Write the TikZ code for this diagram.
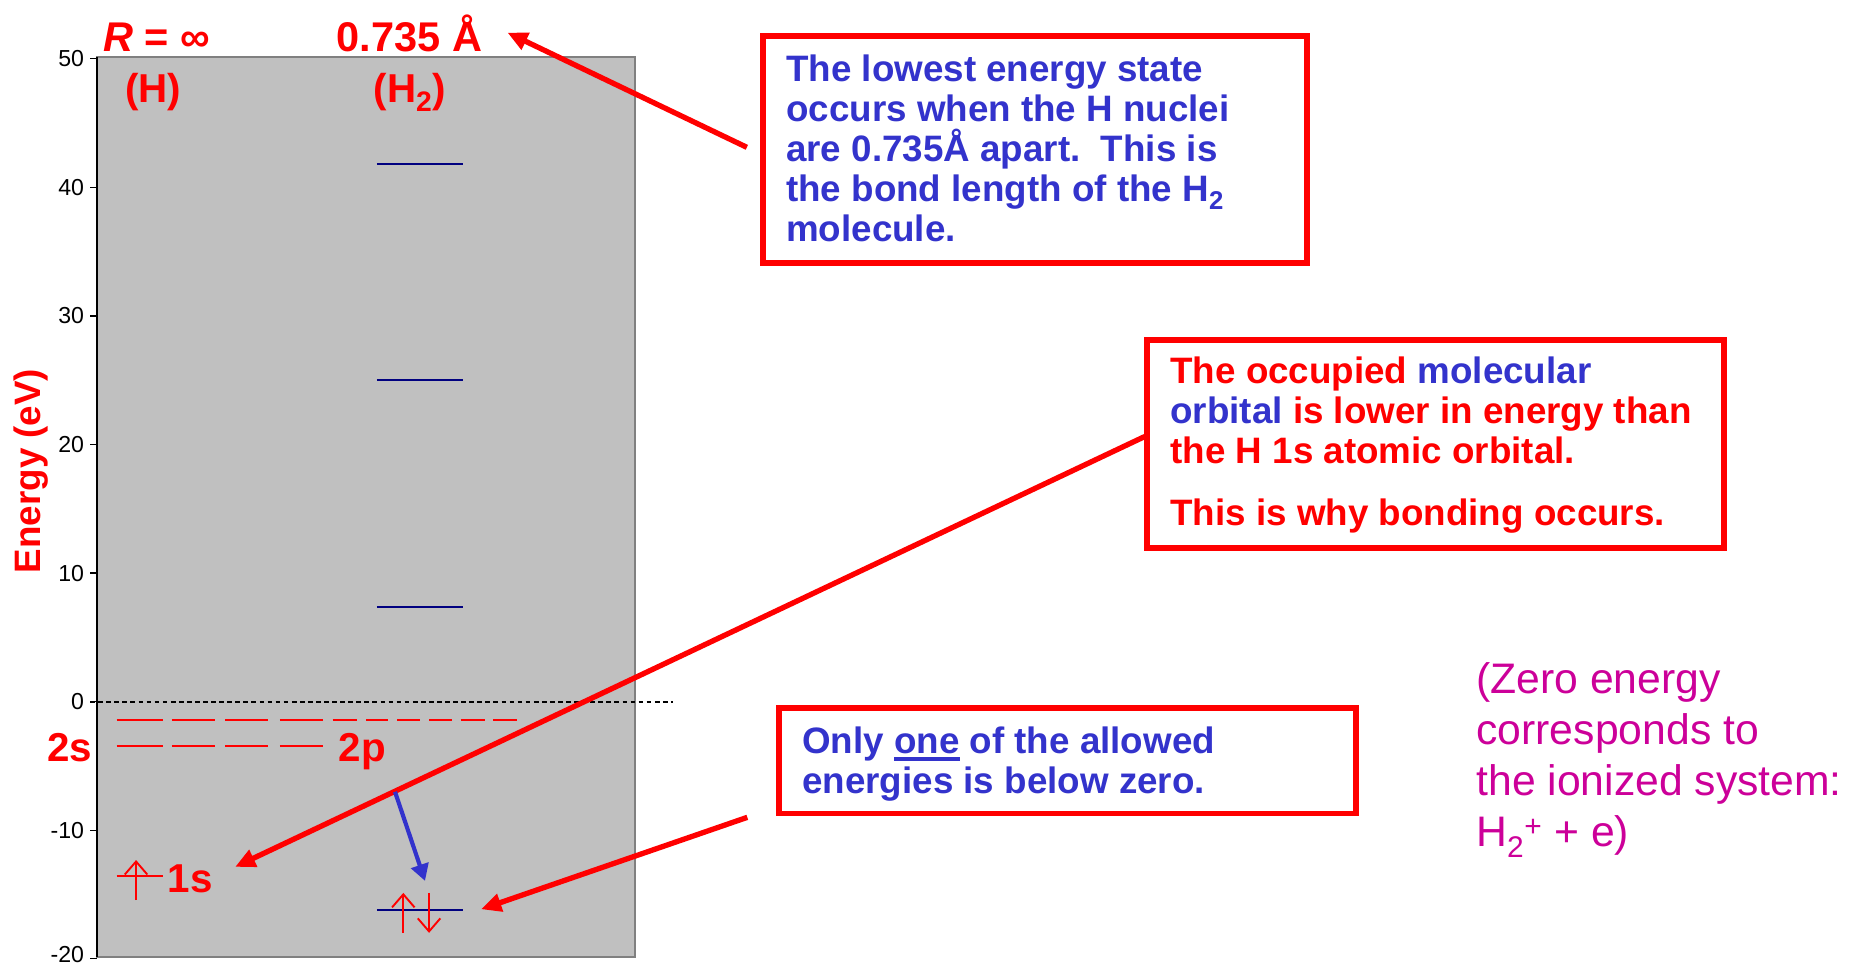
\documentclass[tikz,border=0pt]{standalone}
\usepackage{fontspec}
\setmainfont{Liberation Sans}
\usetikzlibrary{arrows.meta}
\definecolor{pred}{HTML}{FF0000}
\definecolor{tblue}{HTML}{3333CC}
\definecolor{navy}{HTML}{000080}
\definecolor{mag}{HTML}{CC0099}
\definecolor{plotgray}{HTML}{C0C0C0}
\definecolor{framegray}{HTML}{808080}
\newcommand\thickul[1]{\setbox0=\hbox{#1}\leavevmode\rlap{\rule[-6.4pt]{\wd0}{3.2pt}}\box0\relax}
\newcommand\fsz[2]{\fontsize{#1pt}{#2pt}\selectfont}
\newcommand\ptext[2]{\parbox[t]{#1pt}{\raggedright #2}}
\tikzset{
  lbl/.style={inner sep=0pt, outer sep=0pt, anchor=base west, font=\bfseries\fsz{34}{40}, text=pred},
  toplbl/.style={lbl, font=\bfseries\fsz{35}{40}},
  ticklbl/.style={inner sep=0pt, anchor=east, font=\fsz{19.5}{22}, text=black},
  btext/.style={inner sep=0pt, outer sep=0pt, anchor=base west, font=\bfseries\fsz{31}{33.7}},
  mtext/.style={inner sep=0pt, outer sep=0pt, anchor=base west, font=\fsz{36}{43}, text=mag},
  redbox/.style={draw=pred, line width=5pt, inner sep=0pt, outer sep=0pt, anchor=north west, fill=white},
  mo/.style={navy, line width=1.8pt},
  hdash/.style={pred, line width=1.6pt},
  spin/.style={pred, line width=1.6pt, -{Straight Barb[length=11pt,width=19pt]}},
  callout/.style={pred, line width=4.5pt, -{Triangle[length=17pt,width=15pt]}},
  bluearrow/.style={tblue, line width=3.5pt, -{Triangle[length=14pt,width=15pt]}},
}
\begin{document}
\begin{tikzpicture}[x=1pt,y=-1pt]
\path[use as bounding box] (0,0) rectangle (1568,814);
% plot area
\node[draw=framegray, fill=plotgray, line width=1.5pt, minimum width=453.6pt, minimum height=759pt, anchor=north west, inner sep=0pt, outer sep=0pt] (plot) at (81.8,48) {};
\draw[black, line width=1.3pt] (plot.north west) -- (plot.south west);
\foreach \v in {50,40,30,20,10,0,-10,-20}{
  \pgfmathsetmacro\yy{591.5-10.84*\v}
  \pgfmathsetmacro\ly{min(\yy,804.5)}
  \draw[black, line width=1.1pt] (76,\yy) -- (81.8,\yy);
  \node[ticklbl] (tl\v) at (71,\ly) {\v};
}
\node[font=\bfseries\fsz{31}{36}, text=pred, rotate=90, inner sep=0pt] (elab) at (26,397) {Energy (eV)};
% molecular levels
\draw[mo] (317.6,138) -- (390,138);
\draw[mo] (317.6,320) -- (390,320);
\draw[mo] (317.6,512) -- (390,512);
\draw[mo] (317.6,767.3) -- (390,767.3);
% zero line
\draw[black, line width=1.3pt, dash pattern=on 4pt off 2.8pt] (76,592) -- (567,592);
% atomic levels n=3 and n=2
\foreach \a/\b in {98.4/137.2,144.8/181.3,189.7/226,236/272.3,280.5/300.8,308.6/327.2,334.7/354,361.7/381,388.4/409,415.7/435.9}{
  \draw[hdash] (\a,607) -- (\b,607);
}
\foreach \a/\b in {98.4/137.2,144.8/181.3,189.7/226,236/272.3}{
  \draw[hdash] (\a,628.7) -- (\b,628.7);
}
% 1s level
\draw[hdash] (98.4,738.6) -- (137.2,738.6);
\coordinate (s1a) at (114.7,758.9);
\coordinate (s1b) at (114.7,725);
\draw[spin] (s1a) -- (s1b);
% bonding MO spins
\coordinate (upa) at (340,786.4);
\coordinate (upb) at (340,752.7);
\coordinate (dna) at (361.7,752.7);
\coordinate (dnb) at (361.7,786.4);
\draw[spin] (upa) -- (upb);
\draw[spin] (dna) -- (dnb);
% labels
\node[toplbl] (rinf) at (87,43.6) {\textit{R} = ∞};
\node[toplbl] (blen) at (284,43.6) {0.735 Å};
\node[lbl] (hat) at (105.7,86) {(H)};
\node[lbl] (hmol) at (315,86) {(H\textsubscript{2})};
\node[lbl] (l2s) at (40,642) {2s};
\node[lbl] (l2p) at (285.5,642) {2p};
\node[lbl] (l1s) at (141.6,752) {1s};
% boxes
\node[redbox, minimum width=458.5pt, minimum height=191.3pt] (box1) at (643.5,30.4) {};
\node[btext, text=tblue] (t1) at (662.8,68.9) {\ptext{430}{The lowest energy state\\occurs when the H nuclei\\are 0.735Å apart.\ \ This is\\the bond length of the H\textsubscript{2}\\molecule.}};
\node[redbox, minimum width=486.4pt, minimum height=175.2pt] (box2) at (967.3,286.4) {};
\node[btext, text=pred] (t2) at (986.7,323.2) {\ptext{465}{The occupied {\color{tblue}molecular}\\{\color{tblue}orbital} is lower in energy than\\the H 1s atomic orbital.\\[18.3pt]This is why bonding occurs.}};
\node[redbox, minimum width=486pt, minimum height=89pt] (box3) at (657,596.8) {};
\node[btext, text=tblue] (t3) at (676.3,635.2) {\ptext{465}{Only \thickul{one} of the allowed\\energies is below zero.}};
\node[mtext] (t4) at (1244.6,585) {\ptext{330}{(Zero energy\\corresponds to\\the ionized system:\\H\textsubscript{2}\textsuperscript{+} + e)}};
% callout arrows
\coordinate (c1s) at (629.6,124.2);
\coordinate (c1e) at (427.8,27.5);
\coordinate (c2s) at (965,368);
\coordinate (c2e) at (198.2,730.8);
\coordinate (c3s) at (630,689);
\coordinate (c3e) at (405.6,766.5);
\coordinate (bs) at (333,667.5);
\coordinate (be) at (358.3,742.6);
\draw[callout] (c1s) -- (c1e);
\draw[callout] (c2s) -- (c2e);
\draw[callout] (c3s) -- (c3e);
\draw[bluearrow] (bs) -- (be);
\end{tikzpicture}
\end{document}
